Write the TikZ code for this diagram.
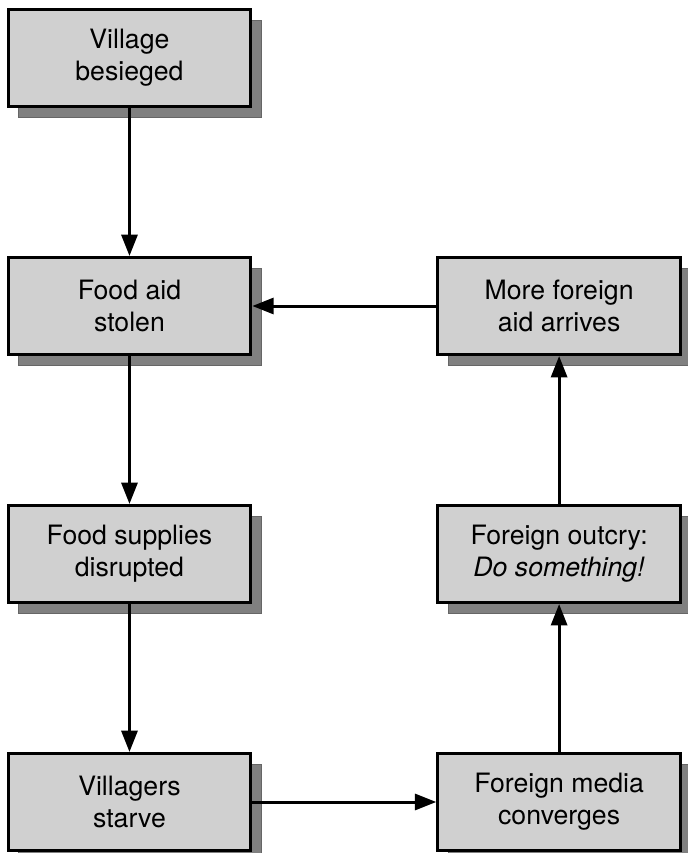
\documentclass[tikz,border=0pt]{standalone}
\usepackage{fontspec}
\setmainfont{TeX Gyre Heros}
\usetikzlibrary{positioning,shadows,arrows.meta}
\definecolor{boxfill}{HTML}{D0D0D0}
\definecolor{shadowfill}{HTML}{808080}
\tikzstyle{event}=[rectangle, draw, fill=boxfill, line width=2.25pt,
  minimum width=182pt, minimum height=72.75pt, align=center,
  font=\fontsize{20}{24}\selectfont,
  drop shadow={shadow xshift=8pt, shadow yshift=-8pt, opacity=1, fill=shadowfill, draw=black!60, line width=0.6pt}]

\begin{document}
\begin{tikzpicture}[-{Triangle[length=16pt,width=12pt]}, line width=2.25pt, node distance=111pt and 138pt]
\useasboundingbox (-97.1pt,43.5pt) rectangle (418.15pt,-596.25pt);

\node[event] (besieged) at (0,0) {Village\\besieged};
\node[event] (stolen) [below=of besieged] {Food aid\\stolen};
\node[event] (disrupted) [below=of stolen] {Food supplies\\disrupted};
\node[event] (starve) [below=of disrupted] {Villagers\\starve};
\node[event] (media) [right=of starve] {Foreign media\\converges};
\node[event] (outcry) [above=of media] {Foreign outcry:\\\textit{Do something!}};
\node[event] (arrives) [above=of outcry] {More foreign\\aid arrives};

\draw (besieged) -- (stolen);
\draw (stolen) -- (disrupted);
\draw (disrupted) -- (starve);
\draw (starve) -- (media);
\draw (media) -- (outcry);
\draw (outcry) -- (arrives);
\draw (arrives) -- (stolen);

\end{tikzpicture}
\end{document}
